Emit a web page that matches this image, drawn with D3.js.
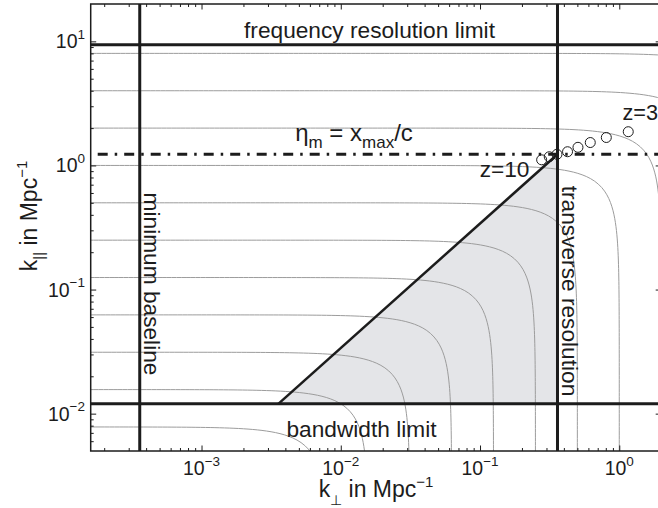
<!DOCTYPE html>
<html><head><meta charset="utf-8">
<script src="https://cdn.jsdelivr.net/npm/d3@7"></script>
<style>
body{margin:0;background:#fff}
svg{display:block}
text{font-family:"Liberation Sans",Arial,Helvetica,sans-serif;fill:#1c1c1c}
</style>
</head><body>
<svg id="c" width="658" height="508"></svg>
<script>
// ---- data ----
const xDomain = [1.6e-4, 2];
const yDomain = [0.005, 20];
const xMajorTicks = [1e-3, 1e-2, 1e-1, 1];
const xTickExps = ["\u22123", "\u22122", "\u22121", "0"];
const yMajorTicks = [1e-2, 1e-1, 1, 10];
const yTickExps = ["\u22122", "\u22121", "0", "1"];
// iso-|k| contour levels (Mpc^-1)
const kLevels = [1/128, 1/64, 1/32, 1/16, 1/8, 1/4, 1/2, 1, 2, 4, 8];
// limits
const freqResLimit = 9.4;
const bandwidthLimit = 0.012;
const minBaseline = 3.6e-4;
const transverseRes = 0.36;
const etaM = 1.23;
// wedge edge
const wedgeStart = [0.00356, 0.012];
const wedgeEnd = [0.36, 1.23];
// redshift markers
const zLabels = [10, 9, 8, 7, 6, 5, 4, 3];
const zKperp = [0.277, 0.314, 0.357, 0.425, 0.505, 0.619, 0.807, 1.16];
const zKpar  = [1.11, 1.175, 1.23, 1.29, 1.40, 1.53, 1.68, 1.87];

// ---- layout ----
const L = 90.7, R = 661.2, T = 4, B = 451;
const svg = d3.select("#c");
const x = d3.scaleLog().domain(xDomain).range([L, R]);
const y = d3.scaleLog().domain(yDomain).range([B, T]);

svg.append("rect").attr("width", 658).attr("height", 508).attr("fill", "#fff");
svg.append("defs").append("clipPath").attr("id", "clip")
  .append("rect").attr("x", L).attr("y", T).attr("width", R - L).attr("height", B - T);
const g = svg.append("g").attr("clip-path", "url(#clip)");

// shaded wedge
g.append("path")
  .attr("d", d3.line()([[x(wedgeStart[0]), y(bandwidthLimit)], [x(wedgeEnd[0]), y(wedgeEnd[1])], [x(transverseRes), y(bandwidthLimit)]]) + "Z")
  .attr("fill", "#e4e5e8");

// iso-k contours
const half = [];
for (let i = 0; i <= 200; i++) { half.push(Math.pow(10, -7 + i * (7 + Math.log10(Math.PI / 4)) / 200)); }
const allT = half.concat(half.slice().reverse().map(t => Math.PI / 2 - t));
const line = d3.line().x(d => x(d[0])).y(d => y(d[1]));
kLevels.forEach(k => {
  const pts = allT.map(t => [k * Math.cos(t), k * Math.sin(t)]);
  g.append("path").attr("d", line(pts)).attr("fill", "none")
    .attr("stroke", "#9c9c9c").attr("stroke-width", 1);
});

// limit lines
const blk = "#1c1c1c";
g.append("line").attr("x1", L).attr("x2", R).attr("y1", y(freqResLimit)).attr("y2", y(freqResLimit))
  .attr("stroke", blk).attr("stroke-width", 3);
g.append("line").attr("x1", L).attr("x2", R).attr("y1", y(bandwidthLimit)).attr("y2", y(bandwidthLimit))
  .attr("stroke", blk).attr("stroke-width", 3);
g.append("line").attr("y1", T).attr("y2", B).attr("x1", x(minBaseline)).attr("x2", x(minBaseline))
  .attr("stroke", blk).attr("stroke-width", 3);
g.append("line").attr("y1", T).attr("y2", B).attr("x1", x(transverseRes)).attr("x2", x(transverseRes))
  .attr("stroke", blk).attr("stroke-width", 3);
g.append("line").attr("x1", L).attr("x2", R).attr("y1", y(etaM)).attr("y2", y(etaM))
  .attr("stroke", blk).attr("stroke-width", 3)
  .attr("stroke-dasharray", "10,7,2.5,7").attr("stroke-dashoffset", 19.5);
// wedge edge
g.append("line").attr("x1", x(wedgeStart[0])).attr("y1", y(wedgeStart[1]))
  .attr("x2", x(wedgeEnd[0])).attr("y2", y(wedgeEnd[1]))
  .attr("stroke", blk).attr("stroke-width", 2.5);

// redshift markers
g.selectAll("circle.z").data(zLabels).enter().append("circle")
  .attr("cx", (d, i) => x(zKperp[i])).attr("cy", (d, i) => y(zKpar[i]))
  .attr("r", 5).attr("fill", "none").attr("stroke", blk).attr("stroke-width", 1);

// ---- annotations ----
const fs = 22.7;
svg.append("text").attr("x", 369.5).attr("y", 37.5).attr("text-anchor", "middle")
  .attr("font-size", fs).text("frequency resolution limit");
svg.append("text").attr("x", 361.5).attr("y", 436.7).attr("text-anchor", "middle")
  .attr("font-size", fs).text("bandwidth limit");
svg.append("text").attr("transform", "translate(144,284) rotate(90)").attr("text-anchor", "middle")
  .attr("font-size", fs).text("minimum baseline");
svg.append("text").attr("transform", "translate(562,291) rotate(90)").attr("text-anchor", "middle")
  .attr("font-size", fs).text("transverse resolution");
svg.append("text").attr("x", 529.5).attr("y", 176.7).attr("text-anchor", "end")
  .attr("font-size", fs).text("z=" + zLabels[0]);
svg.append("text").attr("x", 622.5).attr("y", 120).attr("text-anchor", "start")
  .attr("font-size", fs - 1).text("z=" + zLabels[zLabels.length - 1]);

const eta = svg.append("text").attr("x", 354).attr("y", 141).attr("text-anchor", "middle").attr("font-size", 24);
eta.append("tspan").text("\u03b7");
eta.append("tspan").attr("font-size", 17).attr("dy", 7).text("m");
eta.append("tspan").attr("dy", -7).text(" = x");
eta.append("tspan").attr("font-size", 17).attr("dy", 7).text("max");
eta.append("tspan").attr("dy", -7).text("/c");

// ---- axes ----
function minorTicks(dom) {
  const out = [];
  for (let e = -6; e <= 3; e++) for (let m = 2; m <= 9; m++) {
    const v = m * Math.pow(10, e);
    if (v > dom[0] && v < dom[1]) out.push(v);
  }
  return out;
}
const xMinor = minorTicks(xDomain), yMinor = minorTicks(yDomain);
function addAxis(gen, tr, vals, size) {
  const a = svg.append("g").attr("transform", tr)
    .call(gen.tickValues(vals).tickSize(-size).tickFormat(""));
  a.select(".domain").remove();
  a.selectAll("line").attr("stroke", blk).attr("stroke-width", 1);
}
addAxis(d3.axisBottom(x), `translate(0,${B})`, xMajorTicks, 5.5);
addAxis(d3.axisBottom(x), `translate(0,${B})`, xMinor, 3);
addAxis(d3.axisTop(x), `translate(0,${T})`, xMajorTicks, 5.5);
addAxis(d3.axisTop(x), `translate(0,${T})`, xMinor, 3);
addAxis(d3.axisLeft(y), `translate(${L},0)`, yMajorTicks, 5.5);
addAxis(d3.axisLeft(y), `translate(${L},0)`, yMinor, 3);
addAxis(d3.axisRight(y), `translate(${R},0)`, yMajorTicks, 5.5);
addAxis(d3.axisRight(y), `translate(${R},0)`, yMinor, 3);

svg.append("rect").attr("x", L).attr("y", T).attr("width", R - L).attr("height", B - T)
  .attr("fill", "none").attr("stroke", blk).attr("stroke-width", 1.5);

// tick labels
xMajorTicks.forEach((v, i) => {
  const t = svg.append("text").attr("x", x(v)).attr("y", 475).attr("text-anchor", "middle").attr("font-size", 19.5);
  t.append("tspan").text("10");
  t.append("tspan").attr("font-size", 13.5).attr("dy", -9.5).text(xTickExps[i]);
});
yMajorTicks.forEach((v, i) => {
  const t = svg.append("text").attr("x", 85).attr("y", y(v) + 7).attr("text-anchor", "end").attr("font-size", 19.5);
  t.append("tspan").text("10");
  t.append("tspan").attr("font-size", 13.5).attr("dy", -9.5).text(yTickExps[i]);
});

// axis labels
const xl = svg.append("text").attr("x", 376).attr("y", 497).attr("text-anchor", "middle").attr("font-size", 23);
xl.append("tspan").text("k");
xl.append("tspan").attr("font-size", 14).attr("dy", 8).text("\u22a5");
xl.append("tspan").attr("dy", -8).text(" in Mpc");
xl.append("tspan").attr("font-size", 15).attr("dy", -10).text("\u22121");

const yl = svg.append("text").attr("transform", "translate(37,216) rotate(-90)").attr("text-anchor", "middle").attr("font-size", 23);
yl.append("tspan").text("k");
yl.append("tspan").attr("font-size", 15).attr("dy", 7).text("||");
yl.append("tspan").attr("dy", -7).text(" in Mpc");
yl.append("tspan").attr("font-size", 15).attr("dy", -10).text("\u22121");
</script>
</body></html>
